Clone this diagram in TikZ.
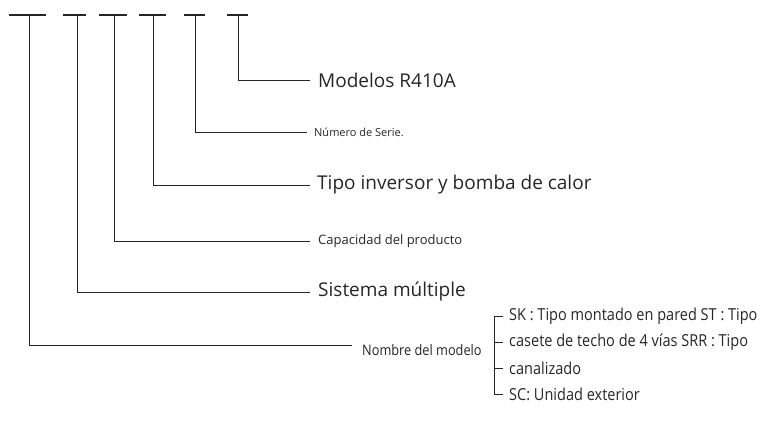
\documentclass[tikz,border=0pt]{standalone}
\usepackage{fontspec}
\setmainfont{Open Sans}
\newfontfamily\condfont{Open Sans}[FakeStretch=0.88]
\begin{document}
\begin{tikzpicture}[x=1pt,y=-1pt,
  conn/.style={draw=black!85,line width=0.9pt},
  tbar/.style={draw=black!85,line width=2pt},
  lbl/.style={anchor=west,inner sep=0pt,text=black!85},
  big/.style={lbl,font=\fontsize{19}{22}\selectfont},
  small/.style={lbl,font=\fontsize{13}{15}\selectfont},
  tiny/.style={lbl,font=\fontsize{11}{13}\selectfont},
  cond/.style={lbl,font=\condfont\fontsize{14.5}{17}\selectfont},
  brk/.style={lbl,font=\condfont\fontsize{16.5}{19}\selectfont}]
\useasboundingbox (0,0) rectangle (771,430);
% top T-bars
\coordinate (t1) at (29,15);
\coordinate (t2) at (77,15);
\coordinate (t3) at (114,15);
\coordinate (t4) at (153,15);
\coordinate (t5) at (195,15);
\coordinate (t6) at (238,15);
\draw[tbar] (9,15) -- (46,15);
\draw[tbar] (63,15) -- (86,15);
\draw[tbar] (99,15) -- (127,15);
\draw[tbar] (139,15) -- (166,15);
\draw[tbar] (184,15) -- (205,15);
\draw[tbar] (227,15) -- (248,15);
% labels
\node[big]   (m6) at (318,80)  {Modelos R410A};
\node[tiny]  (m5) at (314,132) {Número de Serie.};
\node[big]   (m4) at (317,185) {Tipo inversor y bomba de calor};
\node[small] (m3) at (318,241) {Capacidad del producto};
\node[big]   (m2) at (318,292) {Sistema múltiple};
\node[cond]  (m1) at (362,350) {Nombre del modelo};
% connectors
\coordinate (e6) at (310,80);
\coordinate (e5) at (307,132);
\coordinate (e4) at (310,185);
\coordinate (e3) at (310,241);
\coordinate (e2) at (310,292);
\coordinate (e1) at (352,345);
\draw[conn] (t6) |- (e6);
\draw[conn] (t5) |- (e5);
\draw[conn] (t4) |- (e4);
\draw[conn] (t3) |- (e3);
\draw[conn] (t2) |- (e2);
\draw[conn] (t1) |- (e1);
% bracket list
\node[brk] (b1) at (509,316) {SK : Tipo montado en pared ST : Tipo};
\node[brk] (b2) at (509,342) {casete de techo de 4 vías SRR : Tipo};
\node[brk] (b3) at (509,368) {canalizado};
\node[brk] (b4) at (509,394) {SC: Unidad exterior};
\coordinate (bt) at (494,316);
\coordinate (bb) at (494,394);
\draw[conn] (503,316) -- (bt) -- (bb) -- (503,394);
\draw[conn] (494,342) -- (503,342);
\draw[conn] (494,368) -- (503,368);
\end{tikzpicture}
\end{document}
